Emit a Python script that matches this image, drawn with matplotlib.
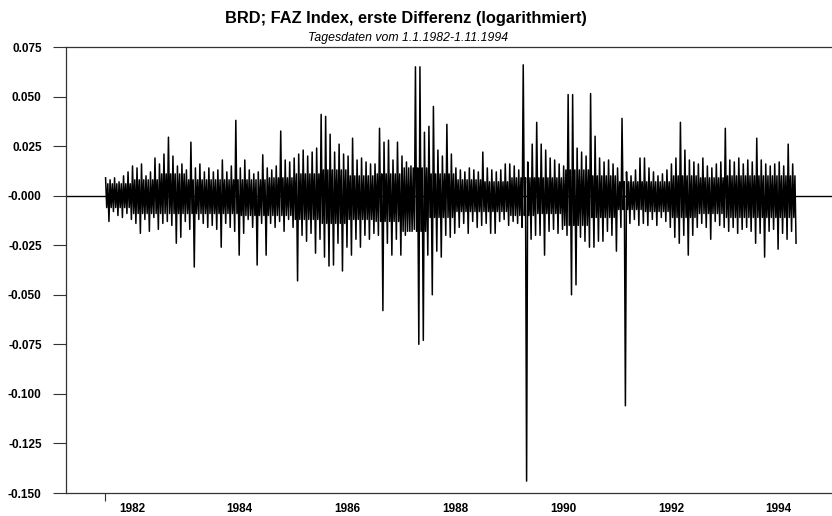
import numpy as np
import matplotlib.pyplot as plt

# monthly envelope of the daily log-differences
# one entry per month, Jan 1982 .. Oct 1994
hi = [0.009, 0.008, 0.009, 0.007, 0.010, 0.012, 0.015, 0.014, 0.016, 0.010, 0.012, 0.019,   # 1982
      0.016, 0.021, 0.0295, 0.020, 0.015, 0.016, 0.013, 0.027, 0.014, 0.016, 0.012, 0.014,  # 1983
      0.012, 0.013, 0.018, 0.012, 0.015, 0.038, 0.014, 0.018, 0.013, 0.011, 0.012, 0.0206,  # 1984
      0.014, 0.013, 0.015, 0.0326, 0.018, 0.017, 0.019, 0.021, 0.023, 0.020, 0.022, 0.024, # 1985
      0.041, 0.040, 0.031, 0.022, 0.026, 0.021, 0.020, 0.029, 0.018, 0.019, 0.017, 0.016,   # 1986
      0.016, 0.034, 0.027, 0.028, 0.018, 0.027, 0.020, 0.017, 0.015, 0.065, 0.065, 0.032,   # 1987
      0.035, 0.045, 0.023, 0.020, 0.036, 0.021, 0.014, 0.013, 0.012, 0.014, 0.013, 0.012,   # 1988
      0.022, 0.014, 0.013, 0.012, 0.013, 0.016, 0.016, 0.015, 0.013, 0.066, 0.017, 0.026,   # 1989
      0.037, 0.026, 0.023, 0.019, 0.018, 0.016, 0.015, 0.051, 0.051, 0.024, 0.022, 0.020,   # 1990
      0.0515, 0.030, 0.019, 0.017, 0.018, 0.016, 0.014, 0.039, 0.012, 0.010, 0.013, 0.019, # 1991
      0.019, 0.014, 0.012, 0.010, 0.011, 0.013, 0.016, 0.019, 0.037, 0.023, 0.018, 0.017,   # 1992
      0.016, 0.019, 0.015, 0.014, 0.016, 0.017, 0.034, 0.018, 0.017, 0.019, 0.016, 0.018,   # 1993
      0.017, 0.029, 0.018, 0.016, 0.015, 0.016, 0.017, 0.015, 0.026, 0.016]                 # 1994
lo = [-0.013, -0.008, -0.010, -0.011, -0.009, -0.012, -0.014, -0.019, -0.012, -0.018, -0.011, -0.017,
      -0.014, -0.013, -0.015, -0.024, -0.021, -0.013, -0.017, -0.036, -0.012, -0.014, -0.016, -0.015,
      -0.017, -0.026, -0.014, -0.016, -0.018, -0.030, -0.019, -0.012, -0.016, -0.035, -0.014, -0.030,
      -0.014, -0.016, -0.013, -0.018, -0.012, -0.016, -0.043, -0.020, -0.023, -0.019, -0.029, -0.022,
      -0.031, -0.0355, -0.035, -0.024, -0.038, -0.026, -0.030, -0.022, -0.026, -0.020, -0.022, -0.019,
      -0.020, -0.058, -0.024, -0.030, -0.022, -0.030, -0.020, -0.018, -0.017, -0.075, -0.073, -0.030,
      -0.050, -0.028, -0.031, -0.020, -0.021, -0.019, -0.016, -0.014, -0.019, -0.013, -0.016, -0.015,
      -0.014, -0.019, -0.019, -0.013, -0.012, -0.015, -0.013, -0.014, -0.016, -0.144, -0.022, -0.020,
      -0.020, -0.030, -0.018, -0.017, -0.019, -0.017, -0.020, -0.050, -0.045, -0.021, -0.023, -0.026,
      -0.026, -0.023, -0.023, -0.018, -0.020, -0.028, -0.016, -0.106, -0.014, -0.012, -0.015, -0.014,
      -0.015, -0.012, -0.015, -0.011, -0.013, -0.016, -0.021, -0.024, -0.020, -0.030, -0.020, -0.016,
      -0.014, -0.016, -0.022, -0.013, -0.015, -0.016, -0.018, -0.016, -0.019, -0.017, -0.016, -0.018,
      -0.024, -0.019, -0.031, -0.018, -0.017, -0.027, -0.019, -0.022, -0.018, -0.024]

# edges of the dense black core of the band, per half-year (1982 H1 .. 1994 H2)
core_hi = [0.006, 0.008, 0.011, 0.008, 0.008, 0.008, 0.009, 0.011, 0.013, 0.010, 0.011, 0.014, 0.011,
           0.008, 0.007, 0.009, 0.009, 0.013, 0.010, 0.007, 0.007, 0.010, 0.009, 0.010, 0.010, 0.010]
core_lo = [-0.006, -0.009, -0.009, -0.009, -0.009, -0.010, -0.010, -0.012, -0.014, -0.012, -0.013, -0.018, -0.011,
           -0.008, -0.008, -0.010, -0.009, -0.015, -0.011, -0.007, -0.008, -0.011, -0.009, -0.011, -0.011, -0.011]

year_labels = ["1982", "1984", "1986", "1988", "1990", "1992", "1994"]
ytick_vals = [0.075, 0.050, 0.025, 0.0, -0.025, -0.050, -0.075, -0.100, -0.125, -0.150]
ytick_text = ["0.075", "0.050", "0.025", "-0.000", "-0.025", "-0.050", "-0.075",
              "-0.100", "-0.125", "-0.150"]

plt.rcParams['font.family'] = ['Liberation Sans', 'DejaVu Sans']

# per month: high, core low, core high, low -> a dense zigzag
n = len(hi)
months = np.arange(n)
half = months // 6
t = np.empty(4 * n)
v = np.empty(4 * n)
t[0::4] = 1982 + (months + 0.125) / 12.0
t[1::4] = 1982 + (months + 0.375) / 12.0
t[2::4] = 1982 + (months + 0.625) / 12.0
t[3::4] = 1982 + (months + 0.875) / 12.0
v[0::4] = hi
v[1::4] = np.array(core_lo)[half]
v[2::4] = np.array(core_hi)[half]
v[3::4] = lo

fig = plt.figure(figsize=(8.32, 5.16), dpi=100)
ax = fig.add_axes([66/832, 23/516, 766/832, 446/516])

ax.axhline(0, color='black', lw=1.0, zorder=1)
ax.plot(t, v, color='black', lw=1.1, zorder=3)

ax.set_xlim(1981.276, 1995.49)
ax.set_ylim(-0.150, 0.075)

ax.set_yticks(ytick_vals)
ax.set_yticklabels(ytick_text, fontsize=8.5, fontweight='bold')
ax.tick_params(axis='y', direction='out', length=9.5, width=0.8, pad=8, color='#333333')

ax.set_xticks([int(y) + 0.5 for y in year_labels])
ax.set_xticklabels(year_labels, fontsize=8.5, fontweight='bold')
ax.tick_params(axis='x', which='major', length=0, pad=7)
ax.set_xticks([1982.0], minor=True)
ax.tick_params(axis='x', which='minor', direction='out', length=6, width=0.8, color='#333333')

ax.spines['right'].set_visible(False)
for s in ['left', 'bottom', 'top']:
    ax.spines[s].set_color('#333333')
    ax.spines[s].set_linewidth(0.9)

fig.text(406/832, 1 - 18/516, "BRD; FAZ Index, erste Differenz (logarithmiert)",
         ha='center', va='center', fontsize=11.8, fontweight='bold')
fig.text(408/832, 1 - 38/516, "Tagesdaten vom 1.1.1982-1.11.1994",
         ha='center', va='center', fontsize=8.8, style='italic')

fig.savefig("out.png", dpi=100)
